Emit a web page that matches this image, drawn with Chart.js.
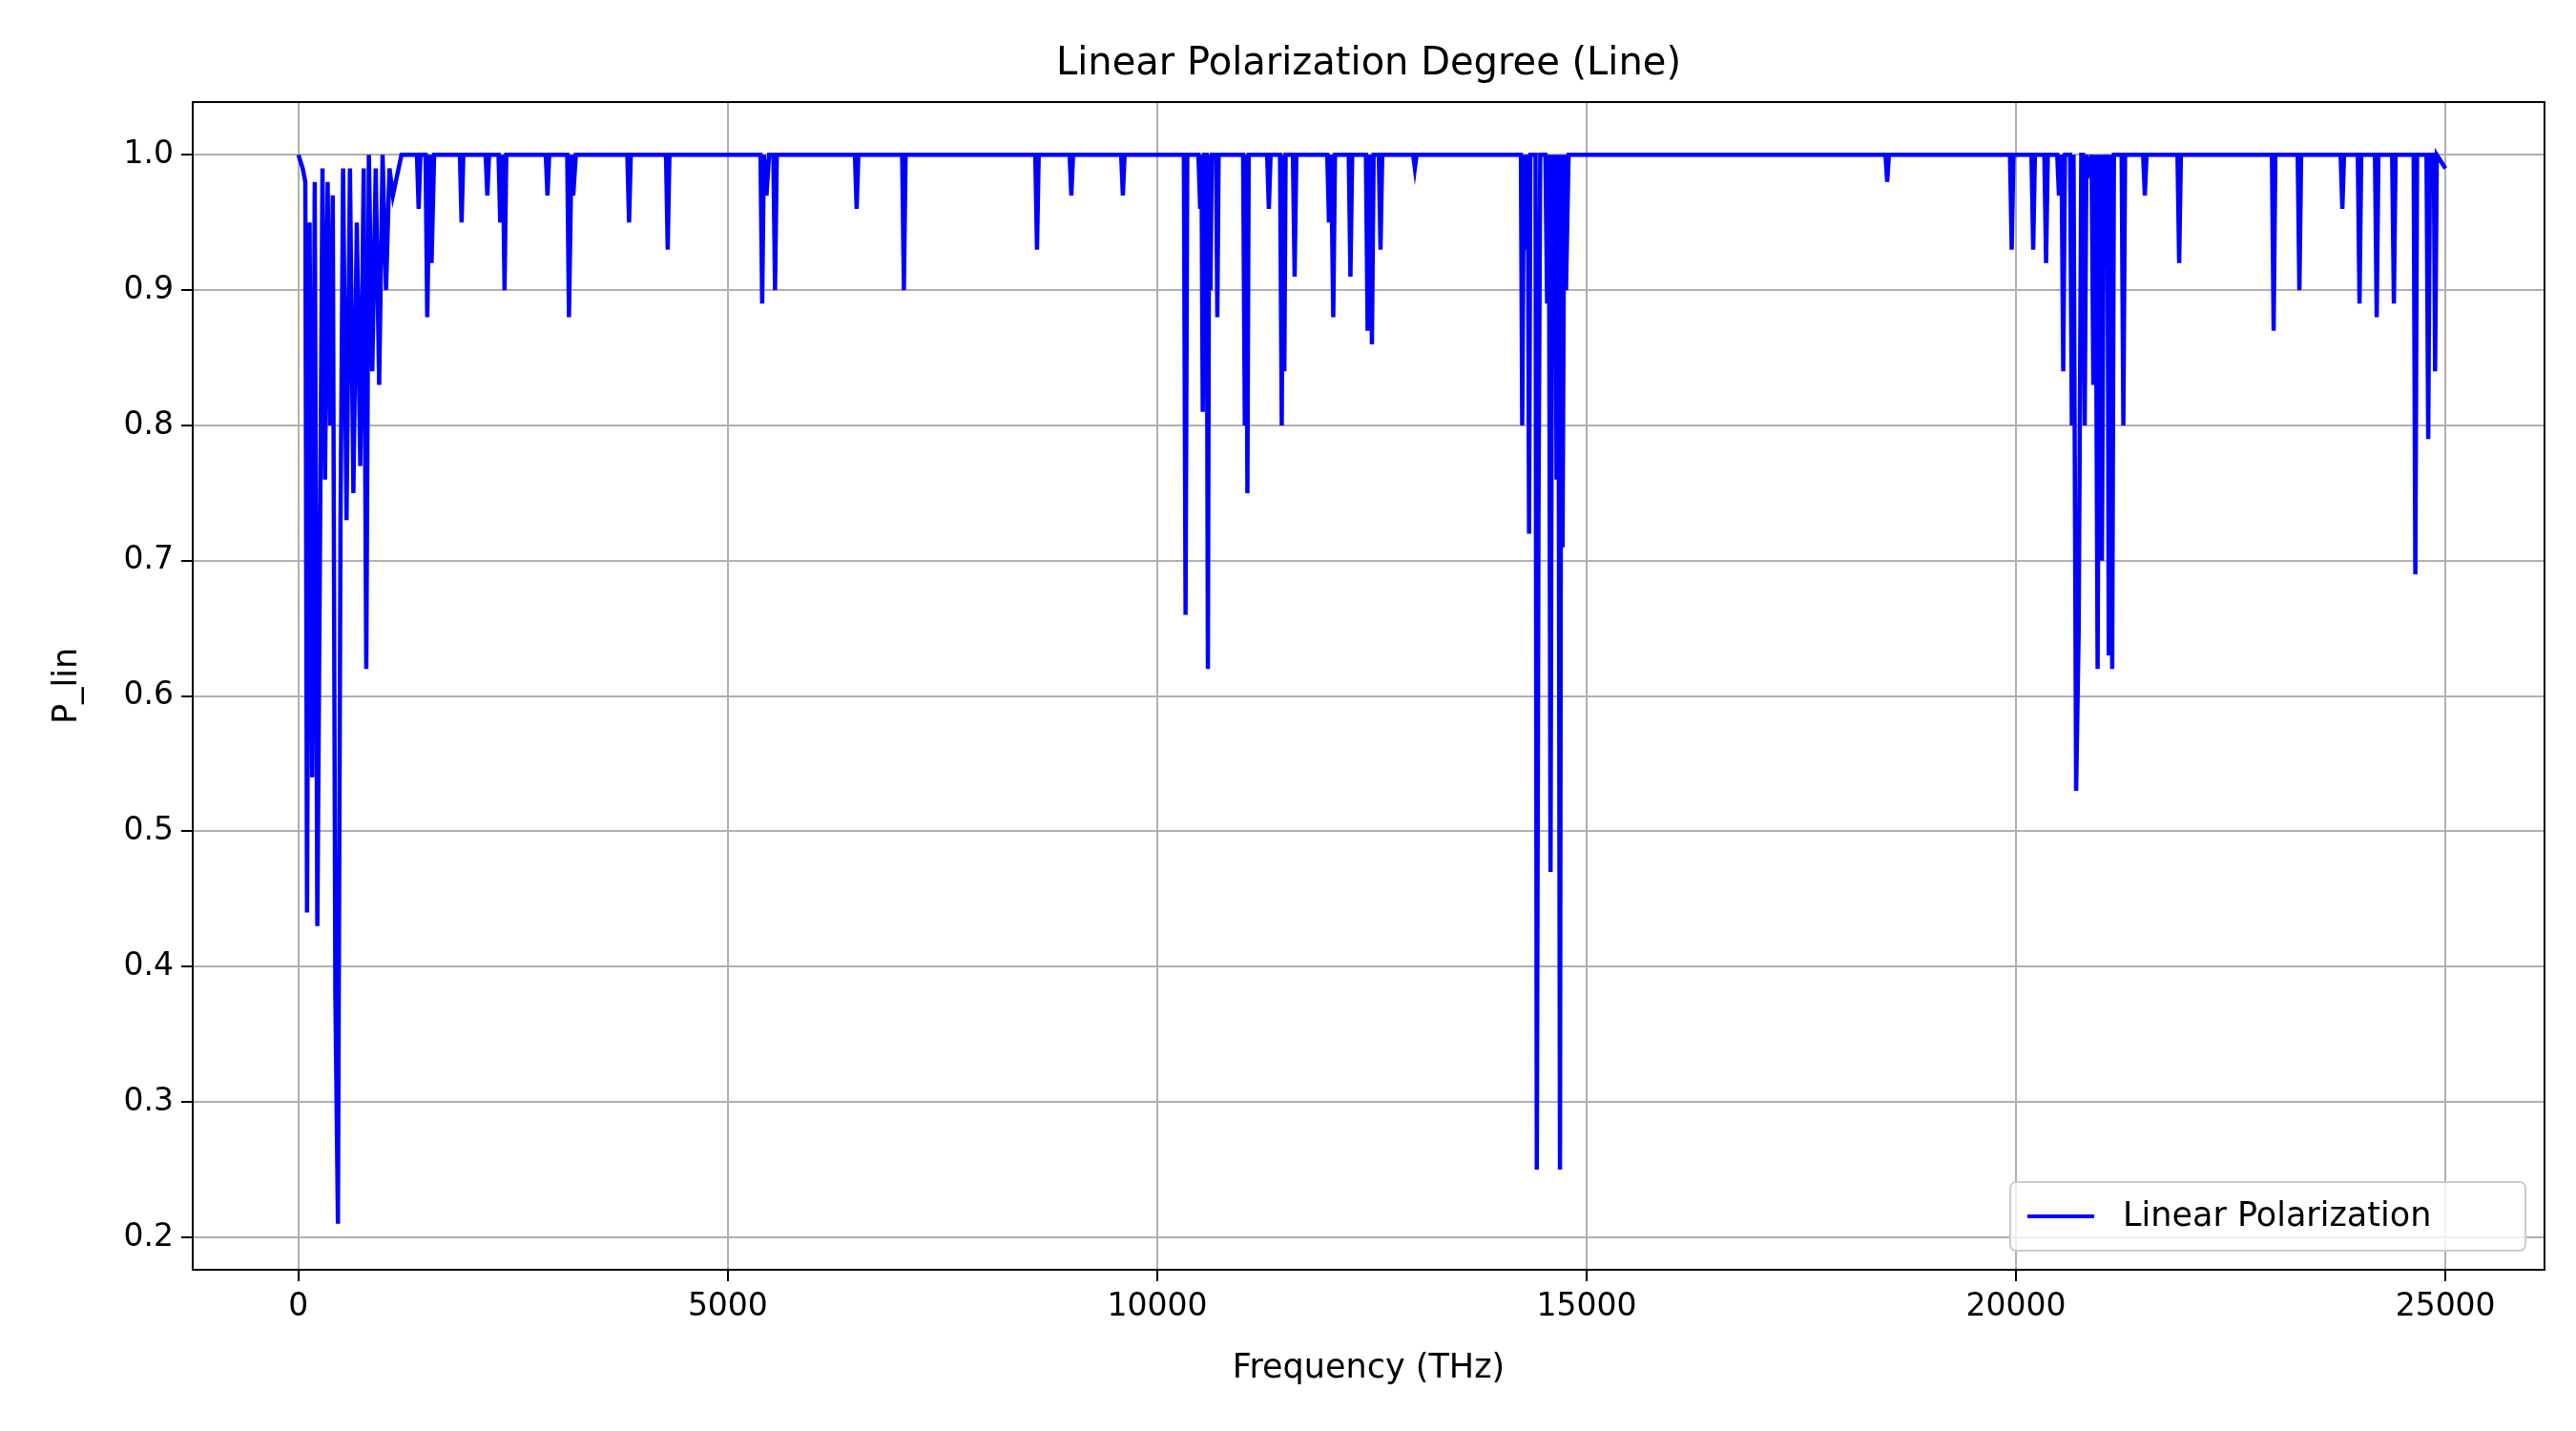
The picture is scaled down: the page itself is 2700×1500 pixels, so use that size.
<!DOCTYPE html>
<html>
<head>
<meta charset="utf-8">
<script src="https://cdn.jsdelivr.net/npm/chart.js@4"></script>
<style>
  html, body { margin: 0; padding: 0; background: #fff; }
  #wrap { width: 2700px; height: 1500px; }
</style>
</head>
<body>
<div id="wrap"><canvas id="plinchart" width="2700" height="1500"></canvas></div>
<script>
// frequency (THz) and linear polarization degree
var freq = [0, 50, 80, 100, 130, 160, 190, 220, 250, 280, 310, 340, 370, 400, 430, 460, 490, 520, 560, 600,
  640, 680, 720, 760, 790, 820, 860, 900, 940, 980, 1020, 1060, 1100, 1200, 1380, 1400, 1420, 1480, 1500, 1530, 1550, 1580,
  1880, 1900, 1920, 2180, 2200, 2220, 2330, 2350, 2380, 2400, 2420, 2880, 2900, 2920, 3130, 3150, 3180, 3200, 3230,
  3830, 3850, 3870, 4280, 4300, 4320, 5380, 5400, 5420, 5450, 5480, 5530, 5550, 5570,
  6480, 6500, 6520, 7030, 7050, 7070, 8580, 8600, 8620, 8980, 9000, 9020, 9580, 9600, 9620,
  10310, 10330, 10350, 10480, 10500, 10515, 10530, 10545, 10575, 10590, 10605, 10620, 10635, 10685, 10700, 10715,
  11000, 11020, 11035, 11050, 11065, 11280, 11300, 11320, 11430, 11450, 11465, 11480, 11495, 11580, 11600, 11620,
  11980, 12000, 12025, 12050, 12070, 12230, 12250, 12270, 12430, 12450, 12475, 12500, 12520, 12580, 12600, 12620,
  12980, 13000, 13020, 14200, 14235, 14250, 14270, 14300, 14315, 14330, 14345, 14405, 14420, 14440, 14460, 14480,
  14520, 14540, 14560, 14580, 14600, 14620, 14635, 14650, 14670, 14690, 14705, 14720, 14740, 14760, 14790,
  18480, 18500, 18520, 19930, 19950, 19970, 20180, 20200, 20220, 20330, 20350, 20370, 20480, 20500, 20530, 20550,
  20570, 20630, 20650, 20670, 20700, 20730, 20760, 20780, 20800, 20820, 20850, 20880, 20900, 20925, 20950, 20975,
  21000, 21025, 21050, 21065, 21080, 21100, 21120, 21140, 21230, 21250, 21270, 21480, 21500, 21520, 21880, 21900,
  21920, 22980, 23000, 23020, 23280, 23300, 23320, 23780, 23800, 23820, 23980, 24000, 24020, 24180, 24200, 24220,
  24380, 24400, 24420, 24630, 24650, 24670, 24780, 24800, 24820, 24865, 24880, 24900, 25000];
var pLin = [1.0, 0.99, 0.98, 0.44, 0.95, 0.54, 0.98, 0.43, 0.70, 0.99, 0.76, 0.98, 0.80, 0.97, 0.38, 0.21, 0.73, 0.99, 0.73, 0.99,
  0.75, 0.95, 0.77, 0.99, 0.62, 1.0, 0.84, 0.99, 0.83, 1.0, 0.90, 0.99, 0.97, 1.0, 1.0, 0.96, 1.0, 1.0, 0.88, 1.0, 0.92, 1.0,
  1.0, 0.95, 1.0, 1.0, 0.97, 1.0, 1.0, 0.95, 1.0, 0.90, 1.0, 1.0, 0.97, 1.0, 1.0, 0.88, 1.0, 0.97, 1.0,
  1.0, 0.95, 1.0, 1.0, 0.93, 1.0, 1.0, 0.89, 1.0, 0.97, 1.0, 1.0, 0.90, 1.0,
  1.0, 0.96, 1.0, 1.0, 0.90, 1.0, 1.0, 0.93, 1.0, 1.0, 0.97, 1.0, 1.0, 0.97, 1.0,
  1.0, 0.66, 1.0, 1.0, 0.96, 1.0, 0.81, 1.0, 1.0, 0.62, 1.0, 0.90, 1.0, 1.0, 0.88, 1.0,
  1.0, 0.80, 1.0, 0.75, 1.0, 1.0, 0.96, 1.0, 1.0, 0.80, 1.0, 0.84, 1.0, 1.0, 0.91, 1.0,
  1.0, 0.95, 1.0, 0.88, 1.0, 1.0, 0.91, 1.0, 1.0, 0.87, 1.0, 0.86, 1.0, 1.0, 0.93, 1.0,
  1.0, 0.99, 1.0, 1.0, 1.0, 0.80, 1.0, 0.93, 1.0, 0.72, 1.0, 1.0, 0.25, 0.74, 1.0, 1.0,
  1.0, 0.89, 1.0, 0.47, 1.0, 0.98, 1.0, 0.76, 1.0, 0.25, 1.0, 0.71, 1.0, 0.90, 1.0,
  1.0, 0.98, 1.0, 1.0, 0.93, 1.0, 1.0, 0.93, 1.0, 1.0, 0.92, 1.0, 1.0, 0.97, 1.0, 0.84,
  1.0, 1.0, 0.80, 1.0, 0.53, 0.65, 1.0, 1.0, 0.80, 1.0, 0.99, 1.0, 0.83, 1.0, 0.62, 1.0,
  0.70, 1.0, 0.99, 1.0, 0.63, 1.0, 0.62, 1.0, 1.0, 0.80, 1.0, 1.0, 0.97, 1.0, 1.0, 0.92,
  1.0, 1.0, 0.87, 1.0, 1.0, 0.90, 1.0, 1.0, 0.96, 1.0, 1.0, 0.89, 1.0, 1.0, 0.88, 1.0,
  1.0, 0.89, 1.0, 1.0, 0.69, 1.0, 1.0, 0.79, 1.0, 1.0, 0.84, 1.0, 0.99];
var xTicks = [0, 5000, 10000, 15000, 20000, 25000];
var yTicks = [0.2, 0.3, 0.4, 0.5, 0.6, 0.7, 0.8, 0.9, 1.0];

var points = freq.map(function (f, i) { return { x: f, y: pLin[i] }; });
var FONT = 'DejaVu Sans';

// title, full frame and lower-right legend box, matplotlib style
var decor = {
  id: 'decor',
  afterDraw: function (chart) {
    var c = chart.ctx, a = chart.chartArea;
    c.save();
    c.strokeStyle = '#000';
    c.lineWidth = 2;
    c.strokeRect(a.left, a.top, a.right - a.left, a.bottom - a.top);
    c.fillStyle = '#000';
    c.font = '40px "' + FONT + '"';
    c.textAlign = 'center';
    c.textBaseline = 'alphabetic';
    c.fillText('Linear Polarization Degree (Line)', (a.left + a.right) / 2, 78);
    // legend
    var w = 540, h = 72, x = a.right - 20 - w, y = a.bottom - 20 - h;
    c.fillStyle = 'rgba(255,255,255,0.8)';
    c.strokeStyle = '#ccc';
    c.lineWidth = 2;
    c.beginPath();
    c.roundRect(x, y, w, h, 6);
    c.fill();
    c.stroke();
    c.strokeStyle = '#0000ff';
    c.lineWidth = 4;
    c.beginPath();
    c.moveTo(x + 18, y + h / 2);
    c.lineTo(x + 88, y + h / 2);
    c.stroke();
    c.fillStyle = '#000';
    c.font = '35px "' + FONT + '"';
    c.textAlign = 'left';
    c.textBaseline = 'middle';
    c.fillText('Linear Polarization', x + 118, y + h / 2 + 1);
    c.restore();
  }
};

var ctx = document.getElementById('plinchart').getContext('2d');
var plinchart = new Chart(ctx, {
  type: 'line',
  data: {
    datasets: [{
      label: 'Linear Polarization',
      data: points,
      borderColor: '#0000ff',
      borderWidth: 4.5,
      pointRadius: 0,
      tension: 0,
      fill: false
    }]
  },
  options: {
    responsive: false,
    animation: false,
    layout: { padding: { top: 107, right: 33, left: 46, bottom: 40 } },
    plugins: { legend: { display: false }, title: { display: false }, tooltip: { enabled: false } },
    scales: {
      x: {
        type: 'linear',
        min: -1231,
        max: 26154,
        afterBuildTicks: function (s) { s.ticks = xTicks.map(function (v) { return { value: v }; }); },
        afterFit: function (s) { s.height = 129; },
        ticks: { color: '#000', font: { family: FONT, size: 33 }, padding: 8, maxRotation: 0, callback: function (v) { return String(v); } },
        grid: { color: '#b0b0b0', lineWidth: 2, tickLength: 12, tickColor: '#000' },
        border: { color: '#000', width: 2 },
        title: { display: true, text: 'Frequency (THz)', color: '#000', font: { family: FONT, size: 35 }, padding: { top: 0 } }
      },
      y: {
        min: 0.176,
        max: 1.039,
        afterBuildTicks: function (s) { s.ticks = yTicks.map(function (v) { return { value: v }; }); },
        afterFit: function (s) { s.width = 156; },
        ticks: { color: '#000', font: { family: FONT, size: 33 }, padding: 8, callback: function (v) { return v.toFixed(1); } },
        grid: { color: '#b0b0b0', lineWidth: 2, tickLength: 12, tickColor: '#000' },
        border: { color: '#000', width: 2 },
        title: { display: true, text: 'P_lin', color: '#000', font: { family: FONT, size: 35 }, padding: { bottom: 0 } }
      }
    }
  },
  plugins: [decor]
});
</script>
</body>
</html>
